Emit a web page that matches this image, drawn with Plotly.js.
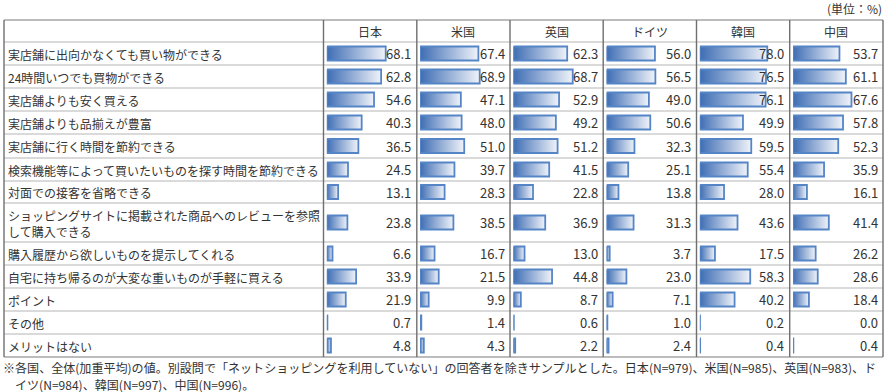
<!DOCTYPE html>
<html><head><meta charset="utf-8">
<script src="https://cdn.plot.ly/plotly-3.0.1.min.js"></script>
<style>html,body{margin:0;padding:0;background:#fff}#chart{width:886px;height:392px}</style>
</head><body><div id="chart"></div>
<script>
// ---- data ----
const countries = ["日本","米国","英国","ドイツ","韓国","中国"];
const items = [
  "実店舗に出向かなくても買い物ができる",
  "24時間いつでも買物ができる",
  "実店舗よりも安く買える",
  "実店舗よりも品揃えが豊富",
  "実店舗に行く時間を節約できる",
  "検索機能等によって買いたいものを探す時間を節約できる",
  "対面での接客を省略できる",
  "ショッピングサイトに掲載された商品へのレビューを参照<br>して購入できる",
  "購入履歴から欲しいものを提示してくれる",
  "自宅に持ち帰るのが大変な重いものが手軽に買える",
  "ポイント",
  "その他",
  "メリットはない"
];
const japan   = [68.1,62.8,54.6,40.3,36.5,24.5,13.1,23.8,6.6,33.9,21.9,0.7,4.8];
const usa     = [67.4,68.9,47.1,48.0,51.0,39.7,28.3,38.5,16.7,21.5,9.9,1.4,4.3];
const uk      = [62.3,68.7,52.9,49.2,51.2,41.5,22.8,36.9,13.0,44.8,8.7,0.6,2.2];
const germany = [56.0,56.5,49.0,50.6,32.3,25.1,13.8,31.3,3.7,23.0,7.1,1.0,2.4];
const korea   = [78.0,76.5,76.1,49.9,59.5,55.4,28.0,43.6,17.5,58.3,40.2,0.2,0.4];
const china   = [53.7,61.1,67.6,57.8,52.3,35.9,16.1,41.4,26.2,28.6,18.4,0.0,0.4];
const unitLabel = "(単位：%)";
const note1 = "※各国、全体(加重平均)の値。別設問で「ネットショッピングを利用していない」の回答者を除きサンプルとした。日本(N=979)、米国(N=985)、英国(N=983)、ド";
const note2 = "イツ(N=984)、韓国(N=997)、中国(N=996)。";
const series = [japan, usa, uk, germany, korea, china];

// ---- layout geometry (pixels) ----
const W = 886, H = 392;
const colEdges = [4, 323.5, 416.8, 510, 603.2, 696.5, 789.7, 883];
const headerTop = 20;
const rowHeights = [23,23,23,23,24,23,22,39,23,23,23,23,23];
const rowTops = [42];
rowHeights.forEach(h => rowTops.push(rowTops[rowTops.length-1] + h));
const barH = 14;
const barOffset = 3.3;
const pxPerPct = 0.865;
const font = "'Noto Sans CJK JP', 'Noto Sans', sans-serif";
const textColor = "#333333";

const traces = [];
const layout = {
  width: W, height: H,
  margin: {l:0, r:0, t:0, b:0},
  paper_bgcolor: "#fff", plot_bgcolor: "rgba(0,0,0,0)",
  showlegend: false,
  font: {family: font, size: 12, color: textColor},
  yaxis: {domain: [0,1], range: [H, 0], visible: false, fixedrange: true},
  shapes: [], annotations: []
};

countries.forEach((c, k) => {
  const axName = k === 0 ? "xaxis" : "xaxis" + (k+1);
  const ref = k === 0 ? "x" : "x" + (k+1);
  const left = colEdges[k+1] + barOffset;
  const right = colEdges[k+2];
  const span = (right - left) / pxPerPct;
  layout[axName] = {domain: [left/W, right/W], range: [0, span], visible: false, fixedrange: true, anchor: "y"};
  series[k].forEach((v, i) => {
    const cy = (rowTops[i] + rowTops[i+1]) / 2;
    const y0 = cy - barH/2, y1 = cy + barH/2;
    traces.push({
      type: "scatter", mode: "lines", xaxis: ref, yaxis: "y",
      x: [0, v, v, 0, 0], y: [y0, y0, y1, y1, y0],
      fill: "toself",
      fillcolor: "#8fa9d6",
      fillgradient: {type: "horizontal", colorscale: [[0, "#3e6db4"], [1, "#f0f3f9"]]},
      line: {color: "#5585c6", width: v > 0 ? 1.8 : 0},
      hoverinfo: "skip"
    });
    layout.annotations.push({
      xref: "paper", yref: "y", x: (colEdges[k+2] - 3.5)/W, y: cy,
      xanchor: "right", yanchor: "middle", showarrow: false,
      text: v.toFixed(1), font: {size: 13, color: textColor, family: font}
    });
  });
  layout.annotations.push({
    xref: "paper", yref: "y", x: ((colEdges[k+1] + colEdges[k+2])/2)/W, y: (headerTop + rowTops[0])/2,
    xanchor: "center", yanchor: "middle", showarrow: false,
    text: c, font: {size: 12, color: textColor, family: font}
  });
});

items.forEach((t, i) => {
  const cy = (rowTops[i] + rowTops[i+1]) / 2;
  layout.annotations.push({
    xref: "paper", yref: "y", x: 6/W, y: cy + 0.5,
    xanchor: "left", yanchor: "middle", align: "left", showarrow: false,
    text: t, font: {size: 12, color: textColor, family: font}
  });
});

layout.annotations.push({
  xref: "paper", yref: "y", x: 884/W, y: 8,
  xanchor: "right", yanchor: "middle", showarrow: false,
  text: unitLabel, font: {size: 12, color: textColor, family: font}
});
layout.annotations.push({
  xref: "paper", yref: "y", x: 1/W, y: 367,
  xanchor: "left", yanchor: "middle", showarrow: false,
  text: note1, font: {size: 12.05, color: textColor, family: font}
});
layout.annotations.push({
  xref: "paper", yref: "y", x: 13/W, y: 384,
  xanchor: "left", yanchor: "middle", showarrow: false,
  text: note2, font: {size: 12.05, color: textColor, family: font}
});

// grid lines
const allRows = [headerTop].concat(rowTops);
allRows.forEach((y, j) => {
  const outer = (j === 0 || j === allRows.length - 1);
  layout.shapes.push({
    type: "line", xref: "paper", yref: "y",
    x0: colEdges[0]/W, x1: colEdges[colEdges.length-1]/W, y0: y, y1: y,
    line: {color: outer ? "#7a7a7a" : "#b5b5b5", width: outer ? 1.2 : 1}
  });
});
colEdges.forEach((x, j) => {
  layout.shapes.push({
    type: "line", xref: "paper", yref: "y",
    x0: x/W, x1: x/W, y0: headerTop, y1: rowTops[rowTops.length-1],
    line: {color: "#6f6f6f", width: 1.4}
  });
});

Plotly.newPlot("chart", traces, layout, {staticPlot: true, displayModeBar: false});
</script>
</body></html>
